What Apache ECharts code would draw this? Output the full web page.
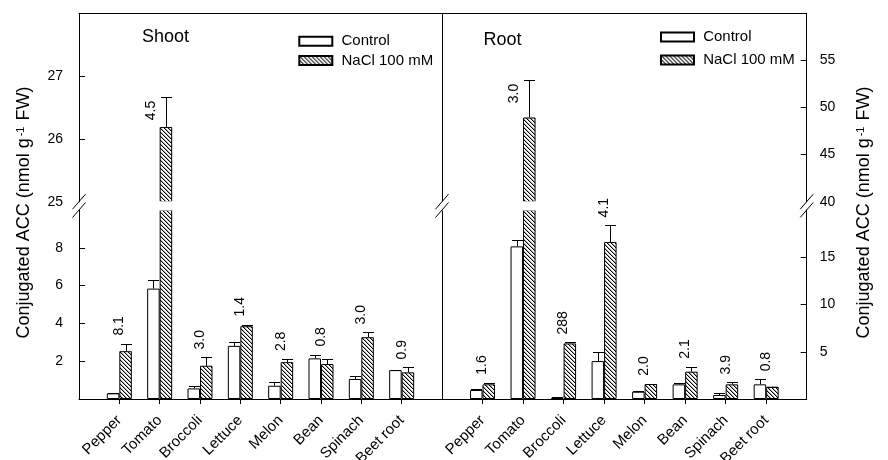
<!DOCTYPE html>
<html><head><meta charset="utf-8">
<script src="https://cdn.jsdelivr.net/npm/echarts@6/dist/echarts.min.js"></script>
<style>html,body{margin:0;padding:0;background:#fff}#c{width:888px;height:460px}</style>
</head><body><div id="c"></div>
<script>
// ---- data ----
const categories = ['Pepper','Tomato','Broccoli','Lettuce','Melon','Bean','Spinach','Beet root'];
const shootControl    = [0.30, 5.84, 0.56, 2.81, 0.70, 2.15, 1.06, 1.53];
const shootControlErr = [0.03, 0.44, 0.14, 0.20, 0.20, 0.20, 0.15, 0.03];
const shootNaCl       = [2.53, 26.19, 1.76, 3.85, 1.95, 1.85, 3.27, 1.41];
const shootNaClErr    = [0.40, 0.48, 0.44, 0.09, 0.16, 0.25, 0.25, 0.26];
const shootFold       = ['8.1','4.5','3.0','1.4','2.8','0.8','3.0','0.9'];
const rootControl     = [0.95, 16.15, 0.14, 4.01, 0.77, 1.55, 0.42, 1.55];
const rootControlErr  = [0.07, 0.64, 0.02, 0.92, 0.07, 0.10, 0.18, 0.53];
const rootNaCl        = [1.55, 48.94, 5.88, 16.61, 1.58, 2.89, 1.55, 1.30];
const rootNaClErr     = [0.17, 4.00, 0.10, 1.76, 0.03, 0.52, 0.20, 0.00];
const rootFold        = ['1.6','3.0','288','4.1','2.0','2.1','3.9','0.8'];
const shootLowRange = [0, 10], shootHighRange = [25, 28];
const rootLowRange = [0, 20], rootHighRange = [40, 60];
const shootLowTicks = [2, 4, 6, 8], shootHighTicks = [25, 26, 27];
const rootLowTicks = [5, 10, 15], rootHighTicks = [40, 45, 50, 55];
const seriesNames = ['Control', 'NaCl 100 mM'];

// ---- layout ----
const FONT = "'Liberation Sans', Arial, Helvetica, sans-serif";
const L = 79, M = 442, R = 806.7, TOP = 13.3, UB = 201.7, LT = 210, BASE = 399;
const BAR_W = 12.5, CAP_W = 11, LABEL_GAP = 8;
const axisCats = ['', ...categories, ''];
const pad = a => ['-', ...a, '-'];

function hatchPattern() {
  const c = document.createElement('canvas'); c.width = 4; c.height = 4;
  const ctx = c.getContext('2d');
  ctx.fillStyle = '#fff'; ctx.fillRect(0, 0, 4, 4);
  for (let i = 0; i < 4; i++) {
    ctx.fillStyle = '#000'; ctx.fillRect(i, i, 1, 1);
    ctx.fillStyle = '#aaa'; ctx.fillRect((i + 1) % 4, i, 1, 1);
  }
  return c;
}
const HATCH = { image: hatchPattern(), repeat: 'repeat' };
const ctrlStyle = { color: '#fff', borderColor: '#000', borderWidth: 1 };
const naclStyle = { color: HATCH, borderColor: '#000', borderWidth: 1 };

function xAxisDef(gi, bottom) {
  return { type: 'category', gridIndex: gi, data: axisCats, boundaryGap: false,
    position: bottom ? 'bottom' : 'top',
    axisLine: { show: true, onZero: false, lineStyle: { color: '#000', width: 1 } },
    axisTick: { show: bottom, inside: false, length: 5, interval: (i, v) => v !== '', lineStyle: { color: '#000' } },
    axisLabel: { show: bottom, interval: 0, rotate: 45, margin: 19, fontSize: 15, color: '#000', fontFamily: FONT },
    splitLine: { show: false } };
}
function yAxisDef(gi, pos, range, labels, lineOnly) {
  return { type: 'value', gridIndex: gi, position: pos, min: range[0], max: range[1],
    axisLine: { show: true, onZero: false, lineStyle: { color: '#000', width: 1 } },
    axisTick: { show: !lineOnly, inside: true, length: 6,
      customValues: lineOnly ? [] : labels.filter(v => v !== range[0]), lineStyle: { color: '#000' } },
    axisLabel: { show: !lineOnly, customValues: lineOnly ? [] : labels,
      margin: pos === 'left' ? 16 : 13, fontSize: 14, color: '#000', fontFamily: FONT },
    splitLine: { show: false } };
}

function bar(name, data, xi, style) {
  return { type: 'bar', name, data, xAxisIndex: xi, yAxisIndex: xi, barWidth: BAR_W, barGap: '0%',
    itemStyle: style, emphasis: { disabled: true }, animation: false, z: 2 };
}

function splitItems(ctrl, ctrlE, nacl, naclE, lo, fold) {
  const errLow = [], errHigh = [], labLow = [], labHigh = [];
  [[ctrl, ctrlE, 0], [nacl, naclE, 1]].forEach(([v, e, s]) => v.forEach((val, i) => {
    (val > lo ? errHigh : errLow).push([i + 1, val, e[i], s]);
  }));
  fold.forEach((t, i) => {
    const broken = ctrl[i] > lo || nacl[i] > lo;
    const top = Math.max(ctrl[i] + ctrlE[i], nacl[i] + naclE[i]);
    (broken ? labHigh : labLow).push([i + 1, top, i]);
  });
  return { errLow, errHigh, labLow, labHigh };
}

function renderErr(params, api) {
  const c = api.value(0), v = api.value(1), e = api.value(2), s = api.value(3);
  const p0 = api.coord([c, v]), p1 = api.coord([c, v + e]);
  const x = Math.round(p0[0] + (s ? BAR_W / 2 : -BAR_W / 2)) + 0.5;
  const yt = Math.round(p1[1]) + 0.5;
  return { type: 'group', children: [
    { type: 'line', shape: { x1: x, y1: p0[1], x2: x, y2: yt }, style: { stroke: '#000', lineWidth: 1 } },
    { type: 'line', shape: { x1: x - CAP_W / 2, y1: yt, x2: x + CAP_W / 2, y2: yt }, style: { stroke: '#000', lineWidth: 1 } }
  ] };
}
function errSeries(data, xi) {
  return { type: 'custom', xAxisIndex: xi, yAxisIndex: xi, data, encode: { x: 0, y: 1 },
    renderItem: renderErr, silent: true, animation: false, z: 3 };
}
function labSeries(data, xi, fold, high) {
  return { type: 'custom', xAxisIndex: xi, yAxisIndex: xi, data, encode: { x: 0, y: 1 }, silent: true,
    animation: false, z: 20,
    renderItem: (params, api) => {
      const p = api.coord([api.value(0), api.value(1)]);
      return { type: 'text', x: high ? p[0] - 9 : p[0], y: high ? p[1] + 4 : p[1] - LABEL_GAP,
        rotation: Math.PI / 2,
        style: { text: fold[api.value(2)], align: high ? 'right' : 'left', verticalAlign: 'middle',
          fontSize: 14, fontFamily: FONT, fill: '#000' } };
    } };
}

const sh = splitItems(shootControl, shootControlErr, shootNaCl, shootNaClErr, shootLowRange[1], shootFold);
const rt = splitItems(rootControl, rootControlErr, rootNaCl, rootNaClErr, rootLowRange[1], rootFold);
const onlyHigh = (a, lo) => a.map(v => (v > lo ? v : '-'));

// white gap of the broken axis (hides bar edges where the bars are cut), then the break marks
const gapMask = { type: 'rect', z: 5, shape: { x: L + 1, y: UB - 0.5, width: R - L - 2, height: LT - UB + 1 },
  style: { fill: '#fff' }, silent: true };
const slashes = [];
[L, M, R].forEach(x => [UB, LT].forEach(y => slashes.push({ type: 'line', z: 6,
  shape: { x1: x - 6.5, y1: y + 7.5, x2: x + 6.5, y2: y - 7.5 }, style: { stroke: '#000', lineWidth: 1 } })));

const yTitle = (x) => ({ type: 'text', x, y: 212.5, rotation: Math.PI / 2,
  style: { text: '{a|Conjugated ACC (nmol g}{s|-1}{a| FW)}', align: 'center', verticalAlign: 'middle',
    rich: { a: { fontSize: 18, fontFamily: FONT, fill: '#000' },
            s: { fontSize: 11, fontFamily: FONT, fill: '#000', verticalAlign: 'top', padding: [0, 1, 0, 2] } } } });

const gridDef = (left, top, width, height) => ({ left, top, width, height, containLabel: false, outerBoundsMode: 'none' });

const chart = echarts.init(document.getElementById('c'));
chart.setOption({
  animation: false,
  backgroundColor: '#fff',
  textStyle: { fontFamily: FONT, color: '#000' },
  title: [
    { text: 'Shoot', left: 142, top: 28, padding: 0, textStyle: { fontSize: 18, fontWeight: 'normal', color: '#000', fontFamily: FONT } },
    { text: 'Root', left: 483.5, top: 31.5, padding: 0, textStyle: { fontSize: 18, fontWeight: 'normal', color: '#000', fontFamily: FONT } }
  ],
  legend: [
    { left: 298.3, top: 33.8, orient: 'vertical', padding: 0, itemWidth: 33, itemHeight: 9, itemGap: 4.3, icon: 'rect',
      data: seriesNames, formatter: n => ' ' + n, textStyle: { fontSize: 15, color: '#000', fontFamily: FONT }, selectedMode: false },
    { left: 660, top: 29.5, orient: 'vertical', padding: 0, itemWidth: 33, itemHeight: 9, itemGap: 8, icon: 'rect',
      data: seriesNames, formatter: n => ' ' + n, textStyle: { fontSize: 15, color: '#000', fontFamily: FONT }, selectedMode: false }
  ],
  grid: [
    gridDef(L, TOP, M - L, UB - TOP),
    gridDef(L, LT, M - L, BASE - LT),
    gridDef(M, TOP, R - M, UB - TOP),
    gridDef(M, LT, R - M, BASE - LT)
  ],
  xAxis: [xAxisDef(0, false), xAxisDef(1, true), xAxisDef(2, false), xAxisDef(3, true)],
  yAxis: [
    yAxisDef(0, 'left', shootHighRange, shootHighTicks, false),
    yAxisDef(1, 'left', shootLowRange, shootLowTicks, false),
    yAxisDef(2, 'right', rootHighRange, rootHighTicks, false),
    yAxisDef(3, 'right', rootLowRange, rootLowTicks, false),
    yAxisDef(2, 'left', rootHighRange, rootHighTicks, true),
    yAxisDef(3, 'left', rootLowRange, rootLowTicks, true)
  ],
  series: [
    bar(seriesNames[0], pad(shootControl), 1, ctrlStyle),
    bar(seriesNames[1], pad(shootNaCl), 1, naclStyle),
    bar(seriesNames[0], pad(shootControl.map(() => '-')), 0, ctrlStyle),
    bar(seriesNames[1], pad(onlyHigh(shootNaCl, shootLowRange[1])), 0, naclStyle),
    bar(seriesNames[0], pad(rootControl), 3, ctrlStyle),
    bar(seriesNames[1], pad(rootNaCl), 3, naclStyle),
    bar(seriesNames[0], pad(rootControl.map(() => '-')), 2, ctrlStyle),
    bar(seriesNames[1], pad(onlyHigh(rootNaCl, rootLowRange[1])), 2, naclStyle),
    errSeries(sh.errLow, 1), errSeries(sh.errHigh, 0),
    errSeries(rt.errLow, 3), errSeries(rt.errHigh, 2),
    labSeries(sh.labLow, 1, shootFold, false), labSeries(sh.labHigh, 0, shootFold, true),
    labSeries(rt.labLow, 3, rootFold, false), labSeries(rt.labHigh, 2, rootFold, true)
  ],
  graphic: [gapMask, ...slashes, yTitle(24.5), yTitle(864)]
});
</script></body></html>
